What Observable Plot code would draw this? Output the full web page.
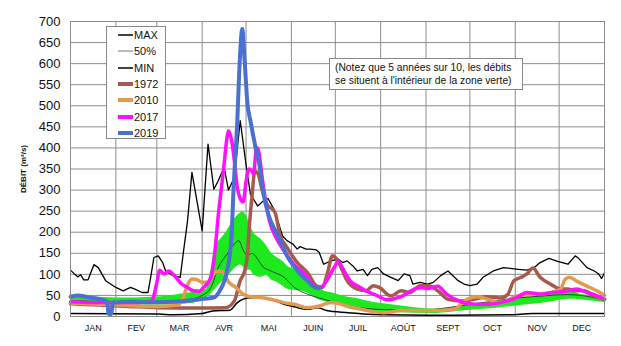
<!DOCTYPE html>
<html>
<head>
<meta charset="utf-8">
<script src="https://cdn.jsdelivr.net/npm/d3@7"></script>
<script src="https://cdn.jsdelivr.net/npm/@observablehq/plot@0.6"></script>
<style>
  html, body { margin: 0; padding: 0; background: #fff; }
  #wrap { position: relative; width: 621px; height: 346px; font-family: "Liberation Sans", Arial, sans-serif; }
  #legend { position: absolute; left: 106px; top: 26px; width: 60px; height: 113px; background: #fff; border: 1px solid #888; box-sizing: border-box; font-size: 11px; color: #111; }
  .lrow { position: absolute; left: 11px; height: 14px; display: flex; align-items: center; }
  .lrow span { margin-left: 1px; }
  #note { position: absolute; left: 329px; top: 58px; width: 194px; height: 32px; background: #fff; border: 1px solid #888; box-sizing: border-box; font-size: 10.3px; line-height: 13px; padding: 2px 0 0 5px; color: #111; white-space: nowrap; }
</style>
</head>
<body>
<div id="wrap"></div>
<script>
// ---- data ----
const monthNames = ["JAN","FEV","MAR","AVR","MAI","JUIN","JUIL","AOÛT","SEPT","OCT","NOV","DEC"];
const monthStarts = [0,31,59,90,120,151,181,212,243,273,304,334,365];
const yTicks = [0,50,100,150,200,250,300,350,400,450,500,550,600,650,700];

const seriesMax = [[0,110],[3,100],[5,94],[7,99],[9,87],[12,87],[16,123],[19,116],[24,85],[31,69],[36,61],[41,69],[44,65],[49,57],[53,57],[55,97],[57,140],[60,144],[63,128],[65,108],[70,97],[75,93],[77,148],[80,227],[83,342],[90,203],[94,409],[98,302],[101,322],[103,338],[105,354],[108,300],[112,330],[116,465],[120,360],[123,290],[128,262],[132,275],[135,280],[139,255],[145,191],[148,180],[152,172],[155,160],[157,166],[161,160],[164,160],[168,158],[170,152],[173,124],[178,132],[183,136],[186,128],[189,132],[193,120],[196,108],[200,112],[203,97],[206,112],[210,116],[214,101],[219,93],[224,85],[228,101],[232,97],[234,77],[239,81],[244,77],[248,81],[253,97],[258,108],[265,85],[269,77],[273,73],[278,77],[282,93],[289,108],[296,116],[306,112],[312,110],[317,116],[321,128],[327,138],[333,131],[340,124],[345,144],[347,139],[353,116],[358,108],[361,101],[363,90],[365,104]];
const seriesMedian = [[0,38],[30,35],[60,36],[80,40],[90,50],[96,69],[101,116],[107,148],[112,172],[115,180],[118,158],[121,145],[124,150],[128,136],[131,120],[137,108],[146,93],[153,69],[162,53],[173,41],[191,25],[210,17],[240,15],[260,22],[280,32],[300,42],[320,48],[340,52],[365,40]];
const seriesMin = [[0,7],[60,6],[70,4],[90,7],[97,13],[109,15],[114,33],[121,44],[129,45],[137,41],[146,29],[153,23],[162,17],[169,21],[175,14],[190,9],[200,6],[215,4],[260,3],[300,4],[316,7],[365,7]];
const band = [[0,28,48],[15,28,46],[31,27,44],[45,27,44],[59,27,46],[70,28,50],[80,30,55],[88,35,60],[93,45,65],[96,53,110],[99,65,165],[103,80,185],[107,93,203],[110,105,220],[113,116,235],[116,122,245],[118,118,248],[120,110,240],[123,110,215],[125,100,200],[130,93,184],[134,97,168],[137,88,152],[141,81,140],[146,70,128],[148,65,120],[153,62,112],[157,61,100],[162,55,89],[169,41,75],[173,36,61],[180,29,55],[185,26,49],[191,17,45],[198,14,41],[203,13,36],[210,10,32],[226,9,25],[248,7,18],[260,10,21],[271,14,29],[285,18,33],[294,21,37],[305,25,41],[316,29,53],[326,33,57],[340,41,61],[349,40,52],[358,36,48],[365,33,40]];
const series1972 = [[0,30],[20,27],[40,24],[60,21],[90,20],[106,21],[112,37],[116,85],[119,108],[121,148],[122,203],[124,282],[126,345],[128,340],[131,300],[135,262],[138,255],[140,245],[143,196],[148,164],[155,128],[162,104],[168,73],[172,69],[176,108],[179,144],[182,136],[186,108],[189,85],[196,65],[202,61],[207,73],[211,69],[219,49],[226,61],[232,57],[239,73],[245,73],[251,61],[258,41],[267,37],[276,41],[285,47],[294,44],[299,53],[303,85],[308,93],[312,101],[316,115],[321,93],[328,77],[335,65],[340,65],[344,61],[351,61],[358,49],[365,41]];
const series2010 = [[0,32],[30,28],[60,24],[74,28],[77,45],[80,75],[83,89],[86,88],[90,81],[94,81],[98,101],[101,108],[104,106],[108,82],[113,69],[118,53],[123,47],[130,45],[137,41],[146,33],[153,29],[162,21],[170,25],[178,33],[191,23],[203,14],[214,9],[226,14],[248,14],[262,17],[271,41],[278,47],[285,41],[294,33],[305,49],[317,53],[328,57],[335,65],[338,88],[341,93],[346,84],[353,72],[362,57],[365,50]];
const series2017 = [[0,35],[20,33],[40,33],[54,35],[56,40],[59,80],[61,110],[64,101],[67,108],[72,93],[76,77],[80,69],[84,61],[88,60],[91,69],[96,93],[99,164],[101,240],[103,300],[105,362],[107,425],[108,441],[110,420],[112,370],[114,306],[116,280],[118,272],[120,320],[122,350],[124,345],[125,338],[127,395],[128,400],[129,385],[131,330],[133,282],[136,227],[141,184],[146,156],[150,136],[155,116],[158,108],[162,93],[165,77],[169,69],[172,71],[175,85],[180,115],[183,130],[187,108],[191,85],[198,69],[205,56],[210,49],[216,40],[226,47],[235,65],[240,69],[244,66],[251,72],[257,53],[267,35],[276,29],[285,29],[294,33],[305,45],[312,57],[321,53],[330,57],[340,61],[346,65],[353,57],[360,49],[365,41]];
const series2019 = [[0,47],[5,50],[12,46],[20,41],[25,35],[26,8],[27,5],[28,8],[29,33],[42,35],[55,34],[76,36],[88,41],[98,45],[102,61],[107,108],[110,188],[111.5,306],[114,464],[115.7,607],[117.4,682],[119,607],[121,504],[123,464],[126.5,401],[129,362],[132,290],[135,245],[140,203],[143.5,180],[148,144],[152.6,120],[157,101],[162,85],[166,71],[170,67]];

const legendLabels = ["MAX","50%","MIN","1972","2010","2017","2019"];
const legendColors = ["#000","#777","#000","#a65a4c","#e29a50","#ff10ff","#4a70d0"];
const legendWidths = [1.5,1,1.5,4,4,4,4];
const noteLines = ["(Notez que 5 années sur 10, les débits","se situent à l'intérieur de la zone verte)"];

// ---- chart ----
const X = d => d[0], Y = d => d[1];
const mid = monthStarts.slice(0, -1).map((s, i) => (s + monthStarts[i + 1]) / 2);
const grid = "#8c8c8c";

const chart = Plot.plot({
  width: 621, height: 346,
  marginLeft: 70, marginRight: 17, marginTop: 21, marginBottom: 30,
  style: {fontFamily: "Liberation Sans, Arial, sans-serif", background: "#fff", color: "#111"},
  x: {domain: [0, 365], axis: null},
  y: {domain: [0, 700], axis: null},
  marks: [
    Plot.gridY(yTicks, {stroke: grid, strokeOpacity: 1, strokeWidth: 1}),
    Plot.gridX(monthStarts, {stroke: grid, strokeOpacity: 1, strokeWidth: 1}),
    Plot.axisY(yTicks, {tickSize: 0, tickPadding: 10, fontSize: 13, label: null}),
    Plot.axisY({ticks: [], label: "DÉBIT (m³/s)", labelAnchor: "center", labelArrow: "none", labelOffset: 50, fontSize: 8, fontWeight: "bold"}),
    Plot.axisX(mid, {tickSize: 0, tickPadding: 8, fontSize: 9, tickFormat: (d, i) => monthNames[i], label: null}),
    Plot.areaY(band, {x: X, y1: d => d[1], y2: d => d[2], fill: "#1ee81e", curve: "monotone-x"}),
    Plot.line(seriesMedian, {x: X, y: Y, stroke: "#222", strokeWidth: 0.8, curve: "monotone-x"}),
    Plot.line(seriesMin, {x: X, y: Y, stroke: "#000", strokeWidth: 1.5, curve: "monotone-x"}),
    Plot.line(seriesMax, {x: X, y: Y, stroke: "#000", strokeWidth: 1.3}),
    Plot.line(series1972, {x: X, y: Y, stroke: legendColors[3], strokeWidth: 3.5, curve: "monotone-x"}),
    Plot.line(series2010, {x: X, y: Y, stroke: legendColors[4], strokeWidth: 3.5, curve: "monotone-x"}),
    Plot.line(series2017, {x: X, y: Y, stroke: legendColors[5], strokeWidth: 3.5, curve: "monotone-x"}),
    Plot.line(series2019, {x: X, y: Y, stroke: legendColors[6], strokeWidth: 4, curve: "monotone-x"}),
    Plot.frame({stroke: grid, strokeWidth: 1})
  ]
});

const wrap = document.getElementById("wrap");
wrap.appendChild(chart);

// legend (inside plot area, like the original)
const legend = document.createElement("div");
legend.id = "legend";
legendLabels.forEach((lab, i) => {
  const row = document.createElement("div");
  row.className = "lrow";
  row.style.top = (1 + i * 16.3) + "px";
  row.innerHTML = `<svg width="15" height="8"><line x1="0" x2="15" y1="4" y2="4" stroke="${legendColors[i]}" stroke-width="${legendWidths[i]}"/></svg><span>${lab}</span>`;
  legend.appendChild(row);
});
wrap.appendChild(legend);

const note = document.createElement("div");
note.id = "note";
note.innerHTML = noteLines.join("<br>");
wrap.appendChild(note);
</script>
</body>
</html>
